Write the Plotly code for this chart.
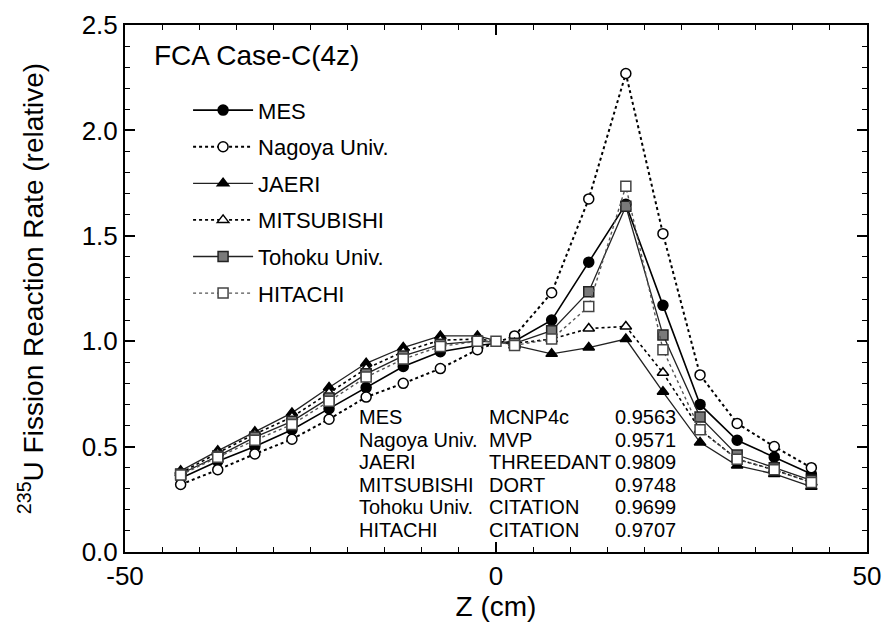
import plotly.graph_objects as go

z = [-42.5, -37.5, -32.5, -27.5, -22.5, -17.5, -12.5, -7.5, -2.5,
     2.5, 7.5, 12.5, 17.5, 22.5, 27.5, 32.5, 37.5, 42.5]
z_hitachi = [-42.5, -37.5, -32.5, -27.5, -22.5, -17.5, -12.5, -7.5, -2.5, 0.0,
             2.5, 7.5, 12.5, 17.5, 22.5, 27.5, 32.5, 37.5, 42.5]

mes = [0.35, 0.43, 0.50, 0.58, 0.68, 0.78, 0.88, 0.95, 0.98,
       1.00, 1.10, 1.375, 1.65, 1.17, 0.70, 0.53, 0.45, 0.37]
nagoya = [0.32, 0.39, 0.465, 0.535, 0.63, 0.735, 0.80, 0.87, 0.96,
          1.025, 1.23, 1.675, 2.27, 1.51, 0.84, 0.61, 0.50, 0.40]
jaeri = [0.385, 0.48, 0.57, 0.66, 0.78, 0.895, 0.97, 1.025, 1.025,
         0.98, 0.94, 0.97, 1.01, 0.76, 0.52, 0.41, 0.37, 0.31]
mitsubishi = [0.375, 0.47, 0.56, 0.64, 0.755, 0.87, 0.95, 1.005, 1.01,
              0.99, 1.01, 1.06, 1.07, 0.85, 0.58, 0.44, 0.39, 0.33]
tohoku = [0.37, 0.455, 0.545, 0.62, 0.73, 0.845, 0.93, 0.985, 1.0,
          0.99, 1.05, 1.235, 1.64, 1.03, 0.64, 0.46, 0.40, 0.34]
hitachi = [0.365, 0.45, 0.53, 0.605, 0.715, 0.83, 0.915, 0.975, 1.0, 1.0,
           0.98, 1.01, 1.165, 1.735, 0.96, 0.58, 0.44, 0.39, 0.33]

x_tickvals = [-50, 0, 50]
x_ticktext = ["-50", "0", "50"]

table_inst = ["MES", "Nagoya Univ.", "JAERI", "MITSUBISHI", "Tohoku Univ.", "HITACHI"]
table_code = ["MCNP4c", "MVP", "THREEDANT", "DORT", "CITATION", "CITATION"]
table_val = ["0.9563", "0.9571", "0.9809", "0.9748", "0.9699", "0.9707"]

FONT = "Liberation Sans, Arial, sans-serif"

series = [
    ("MES", z, mes, "circle", "black", "black", "solid", 1.6, "black"),
    ("Nagoya Univ.", z, nagoya, "circle", "white", "black", "3px,3px", 2.0, "black"),
    ("JAERI", z, jaeri, "triangle-up", "black", "black", "solid", 1.3, "#222"),
    ("MITSUBISHI", z, mitsubishi, "triangle-up", "white", "black", "3px,3px", 1.6, "black"),
    ("Tohoku Univ.", z, tohoku, "square", "#7a7a7a", "#222", "solid", 1.3, "#222"),
    ("HITACHI", z_hitachi, hitachi, "square", "white", "#444", "3px,3px", 1.4, "#555"),
]

fig = go.Figure()
for i, (name, xs, ys, sym, fill, mline, dash, lw, lcol) in enumerate(series):
    fig.add_trace(go.Scatter(
        x=xs, y=ys, name=name, mode="lines+markers",
        legendgroup=str(i),
        line=dict(color=lcol, width=lw, dash=dash),
        marker=dict(symbol=sym, size=10, color=fill,
                    line=dict(color=mline, width=1.5)),
    ))

axis_common = dict(
    showline=True, linewidth=2, linecolor="black", mirror="allticks",
    ticks="inside", ticklen=10, tickwidth=1.5, tickcolor="black",
    showgrid=False, zeroline=False, automargin=False,
    tickfont=dict(family=FONT, size=26, color="black"),
)

fig.update_xaxes(
    range=[-50, 50], tickmode="array", tickvals=x_tickvals, ticktext=x_ticktext,
    minor=dict(dtick=5, tick0=0, ticks="inside", ticklen=5, tickcolor="black", tickwidth=1.2, showgrid=False),
    title=dict(text="Z (cm)", font=dict(family=FONT, size=28, color="black"), standoff=0),
    **axis_common,
)
fig.update_yaxes(
    range=[0, 2.5], dtick=0.5, tick0=0, tickformat=".1f",
    minor=dict(dtick=0.1, ticks="inside", ticklen=5, tickcolor="black", tickwidth=1.2, showgrid=False),
    title=dict(text="<sup>235</sup>U Fission Reaction Rate (relative)",
               font=dict(family=FONT, size=28, color="black"), standoff=30),
    **axis_common,
)

annotations = [dict(
    text="FCA Case-C(4z)", xref="paper", yref="paper", x=0.036, y=0.943,
    xanchor="left", yanchor="middle", showarrow=False,
    font=dict(family=FONT, size=28, color="black"),
)]
row_y0 = 417
row_step = 22.6
cols = [(table_inst, 357), (table_code, 487), (table_val, 613)]
for col_vals, px in cols:
    for r, txt in enumerate(col_vals):
        ypx = row_y0 + r * row_step
        annotations.append(dict(
            text=txt, xref="paper", yref="paper",
            x=(px - 125) / 742, y=(552 - ypx) / 527,
            xanchor="left", yanchor="middle", showarrow=False,
            font=dict(family=FONT, size=20, color="black"),
        ))

fig.update_layout(
    width=883, height=633,
    margin=dict(l=125, r=16, t=25, b=81),
    paper_bgcolor="white", plot_bgcolor="white",
    showlegend=True,
    legend=dict(
        x=0.085, y=0.878, xanchor="left", yanchor="top",
        bgcolor="rgba(0,0,0,0)", borderwidth=0,
        font=dict(family=FONT, size=22, color="black"),
        itemwidth=60, tracegroupgap=5,
    ),
    annotations=annotations,
    font=dict(family=FONT, color="black"),
)

fig.write_html("out.html", config={"displayModeBar": False},
               post_script="document.body.style.margin='0';")
